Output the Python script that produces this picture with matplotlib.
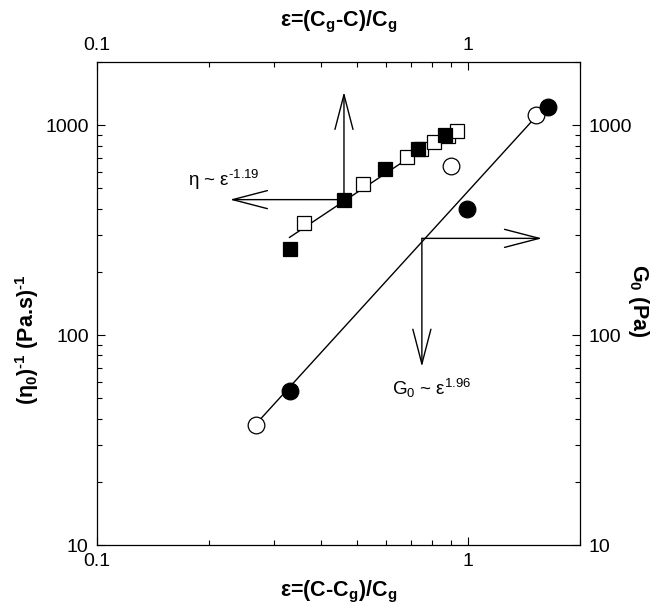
import matplotlib
matplotlib.use("Agg")
import matplotlib.pyplot as plt
from matplotlib.ticker import FixedLocator, LogLocator, NullFormatter

plt.rcParams["font.family"] = ["Liberation Sans", "DejaVu Sans"]
plt.rcParams["mathtext.fontset"] = "custom"
plt.rcParams["mathtext.rm"] = "Liberation Sans"
plt.rcParams["mathtext.bf"] = "Liberation Sans:bold"
plt.rcParams["mathtext.it"] = "Liberation Sans:italic"
plt.rcParams["mathtext.default"] = "regular"

# inverse zero-shear viscosity (squares), eps = (Cg-C)/Cg
eta_fill_x = [0.330, 0.463, 0.598, 0.733, 0.864]
eta_fill_y = [258, 442, 617, 770, 896]
eta_open_x = [0.362, 0.520, 0.682, 0.746, 0.811, 0.880, 0.931]
eta_open_y = [342, 523, 702, 770, 829, 892, 936]
eta_fit_x = [0.330, 0.936]
eta_fit_y = [292, 997]

# plateau modulus (circles), eps = (C-Cg)/Cg
g_fill_x = [0.331, 0.994, 1.643]
g_fill_y = [54.4, 400, 1225]
g_open_x = [0.268, 0.900, 1.525]
g_open_y = [37.2, 636, 1116]
g_fit_x = [0.268, 1.633]
g_fit_y = [37.7, 1259]

HY = "\u2010"  # plain hyphen, mathtext would turn "-" into a wide minus

fig = plt.figure(figsize=(6.70, 6.08), dpi=100)
ax = fig.add_axes([0.1448, 0.1036, 0.7209, 0.7944])

ax.plot(eta_fit_x, eta_fit_y, color="black", lw=1.0, zorder=2)
ax.plot(g_fit_x, g_fit_y, color="black", lw=1.0, zorder=2)
ax.plot(eta_open_x, eta_open_y, ls="none", marker="s", ms=10.5, mfc="white",
        mec="black", mew=0.9, zorder=3)
ax.plot(eta_fill_x, eta_fill_y, ls="none", marker="s", ms=10.5, mfc="black",
        mec="black", mew=0.9, zorder=4)
ax.plot(g_open_x, g_open_y, ls="none", marker="o", ms=12, mfc="white",
        mec="black", mew=0.9, zorder=3)
ax.plot(g_fill_x, g_fill_y, ls="none", marker="o", ms=12, mfc="black",
        mec="black", mew=0.9, zorder=4)

# arrows telling which axis each data set belongs to
arr = dict(arrowstyle="->, head_length=2.5, head_width=0.65", lw=1.0,
           color="black", shrinkA=0, shrinkB=0, mutation_scale=10)
ax.annotate("", xy=(0.4626, 1441), xytext=(0.4626, 442), arrowprops=arr)
ax.annotate("", xy=(0.228, 442), xytext=(0.4626, 442), arrowprops=arr)
ax.annotate("", xy=(1.58, 289), xytext=(0.750, 289), arrowprops=arr)
ax.annotate("", xy=(0.750, 70.7), xytext=(0.750, 289), arrowprops=arr)

ax.text(0.176, 512, "η ~ ε$^{" + HY + "1.19}$", fontsize=13.5,
        ha="left", va="baseline")
ax.text(0.624, 51.8, r"G$_0$ ~ ε$^{1.96}$", fontsize=13.5,
        ha="left", va="baseline")

ax.set_xscale("log")
ax.set_yscale("log")
ax.set_xlim(0.1, 2)
ax.set_ylim(10, 2000)
ax.xaxis.set_major_locator(FixedLocator([0.1, 1]))
ax.set_xticklabels(["0.1", "1"])
ax.yaxis.set_major_locator(FixedLocator([10, 100, 1000]))
ax.set_yticklabels(["10", "100", "1000"])
ax.xaxis.set_minor_locator(LogLocator(base=10, subs=range(2, 10)))
ax.yaxis.set_minor_locator(LogLocator(base=10, subs=range(2, 10)))
ax.xaxis.set_minor_formatter(NullFormatter())
ax.yaxis.set_minor_formatter(NullFormatter())
ax.tick_params(which="both", direction="in", top=True, right=True,
               labeltop=True, labelright=True, labelsize=14, width=0.8)
ax.tick_params(which="major", length=6, pad=6)
ax.tick_params(which="minor", length=3.5)
for s in ax.spines.values():
    s.set_linewidth(0.9)

lab = dict(fontsize=15.5, fontweight="bold", ha="center", va="center")
fig.text(338.5 / 670, 1 - 592 / 608, r"ε=(C-C$_\mathbf{g}$)/C$_\mathbf{g}$", **lab)
fig.text(338.5 / 670, 1 - 22 / 608, r"ε=(C$_\mathbf{g}$-C)/C$_\mathbf{g}$", **lab)
fig.text(27 / 670, 1 - 340 / 608,
         "(η$_\\mathbf{0}$)$^\\mathbf{" + HY + "1}$ (Pa.s)$^\\mathbf{" + HY + "1}$",
         rotation=90, **lab)
fig.text(639 / 670, 1 - 301 / 608, r"G$_\mathbf{0}$ (Pa)", rotation=270, **lab)

fig.savefig("out.png", dpi=100)
